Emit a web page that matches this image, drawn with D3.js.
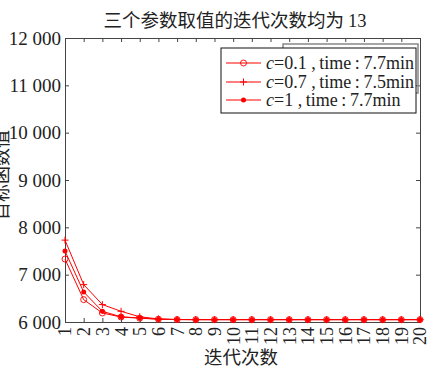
<!doctype html>
<html>
<head>
  <meta charset="utf-8">
  <title>迭代次数</title>
  <style>
    * { margin: 0; padding: 0; box-sizing: border-box; }
    body { background: #fff; }
    svg { display: block; }
  </style>
</head>
<body>
  <div id="container"></div>
  <script src="https://cdn.jsdelivr.net/npm/d3@7"></script>
  <script>
    // iterations 1..20, objective value per iteration for the three c settings
    const iterations = d3.range(1, 21);
    const yTicks = [6000, 7000, 8000, 9000, 10000, 11000, 12000];

    const c01 = [7330, 6473, 6190, 6105, 6080, 6060, 6052, 6050, 6050, 6050,
                 6050, 6050, 6050, 6050, 6050, 6050, 6050, 6050, 6050, 6050];
    const c07 = [7730, 6790, 6368, 6226, 6110, 6065, 6052, 6050, 6050, 6050,
                 6050, 6050, 6050, 6050, 6050, 6050, 6050, 6050, 6050, 6050];
    const c1  = [7500, 6634, 6226, 6110, 6085, 6060, 6052, 6050, 6050, 6050,
                 6050, 6050, 6050, 6050, 6050, 6050, 6050, 6050, 6050, 6050];

    const seriesNames = ['c=0.1', 'c=0.7', 'c=1'];
    const seriesTimes = ['7.7min', '7.5min', '7.7min'];
    const seriesMarks = ['circle', 'plus', 'dot'];

    const series = [c01, c07, c1].map((vals, i) => ({
      name: seriesNames[i], time: seriesTimes[i], mark: seriesMarks[i],
      values: vals.map((v, j) => ({x: iterations[j], y: v}))
    }));

    const W = 429, H = 369;
    const m = {l: 65, r: 9, t: 38, b: 47};
    const red = '#ff0000';
    const SERIF = '"Liberation Serif"';
    const CJK = '"Noto Sans CJK SC"';

    const svg = d3.select('#container').append('svg')
      .attr('width', W).attr('height', H);

    const x = d3.scaleLinear().domain([1, 20]).range([m.l, W - m.r]);
    const y = d3.scaleLinear().domain([6000, 12000]).range([H - m.b, m.t]);

    const fmt = d => d3.format(',')(d).replace(',', ' ');

    // frame axes, ticks pointing inward
    const gx = svg.append('g').attr('transform', `translate(0,${H - m.b})`)
      .call(d3.axisBottom(x).tickValues(iterations).tickSize(-4).tickFormat(d3.format('d')));
    gx.selectAll('text')
      .attr('transform', 'rotate(-90)')
      .attr('text-anchor', 'end')
      .attr('x', -5).attr('y', 0).attr('dy', '0.33em')
      .style('font-family', SERIF).style('font-size', '18px').attr('fill', '#222');

    const gy = svg.append('g').attr('transform', `translate(${m.l},0)`)
      .call(d3.axisLeft(y).tickValues(yTicks).tickSize(-4).tickPadding(4).tickFormat(fmt));
    gy.selectAll('text').style('font-family', SERIF).style('font-size', '19px').attr('fill', '#222');

    svg.append('g').attr('transform', `translate(0,${m.t})`)
      .call(d3.axisTop(x).tickValues(iterations).tickSize(-4).tickFormat(''));
    svg.append('g').attr('transform', `translate(${W - m.r},0)`)
      .call(d3.axisRight(y).tickValues(yTicks).tickSize(-4).tickFormat(''));

    svg.selectAll('.domain').attr('stroke', '#444');
    svg.selectAll('.tick line').attr('stroke', '#444');

    // lines
    const line = d3.line().x(d => x(d.x)).y(d => y(d.y));
    svg.append('g').selectAll('path').data(series).join('path')
      .attr('d', d => line(d.values))
      .attr('fill', 'none').attr('stroke', red).attr('stroke-width', 1);

    function drawMark(g, kind) {
      if (kind === 'circle') {
        g.append('circle').attr('r', 3).attr('fill', 'none')
          .attr('stroke', red).attr('stroke-width', 0.9);
      } else if (kind === 'plus') {
        g.append('path').attr('d', 'M-3.5,0H3.5M0,-3.5V3.5')
          .attr('stroke', red).attr('stroke-width', 1);
      } else {
        g.append('circle').attr('r', 2.5).attr('fill', red);
      }
    }

    series.forEach(s => {
      svg.append('g').selectAll('g').data(s.values).join('g')
        .attr('transform', d => `translate(${x(d.x)},${y(d.y)})`)
        .each(function() { drawMark(d3.select(this), s.mark); });
    });

    // title and axis labels
    const title = svg.append('text').attr('x', 235).attr('y', 27)
      .attr('text-anchor', 'middle').style('font-size', '18.5px').attr('fill', '#222');
    title.append('tspan').style('font-family', CJK).text('三个参数取值的迭代次数均为 ');
    title.append('tspan').style('font-family', SERIF).text('13');
    svg.append('text').attr('x', 241).attr('y', 364)
      .attr('text-anchor', 'middle').style('font-family', CJK)
      .style('font-size', '18.5px').attr('fill', '#222')
      .text('迭代次数');
    svg.append('text').attr('transform', 'translate(8,175) rotate(-90)')
      .attr('text-anchor', 'middle').style('font-family', CJK)
      .style('font-size', '18px').attr('fill', '#222')
      .text('目标函数值');

    // legend (with the grey ghost box behind it)
    svg.append('rect').attr('x', 283).attr('y', 44).attr('width', 135).attr('height', 49)
      .attr('fill', 'none').attr('stroke', '#888').attr('stroke-width', 1.5);
    svg.append('rect').attr('x', 221).attr('y', 48).attr('width', 195).attr('height', 65)
      .attr('fill', '#fff').attr('stroke', '#111').attr('stroke-width', 1);

    const legendRows = [63, 82, 100];
    const lg = svg.append('g').selectAll('g').data(series).join('g')
      .attr('transform', (d, i) => `translate(0,${legendRows[i]})`);
    lg.append('line').attr('x1', 226).attr('x2', 261)
      .attr('stroke', red).attr('stroke-width', 1);
    lg.append('g').attr('transform', 'translate(243.5,0)')
      .each(function(d) { drawMark(d3.select(this), d.mark); });
    const lt = lg.append('text').attr('x', 266).attr('dy', '0.35em')
      .style('font-family', SERIF).style('font-size', '18px').attr('fill', '#222');
    lt.append('tspan').style('font-style', 'italic').text('c');
    lt.append('tspan').text(d => d.name.slice(1) + ' ,\u2009time\u2009:\u2009' + d.time);
  </script>
</body>
</html>
